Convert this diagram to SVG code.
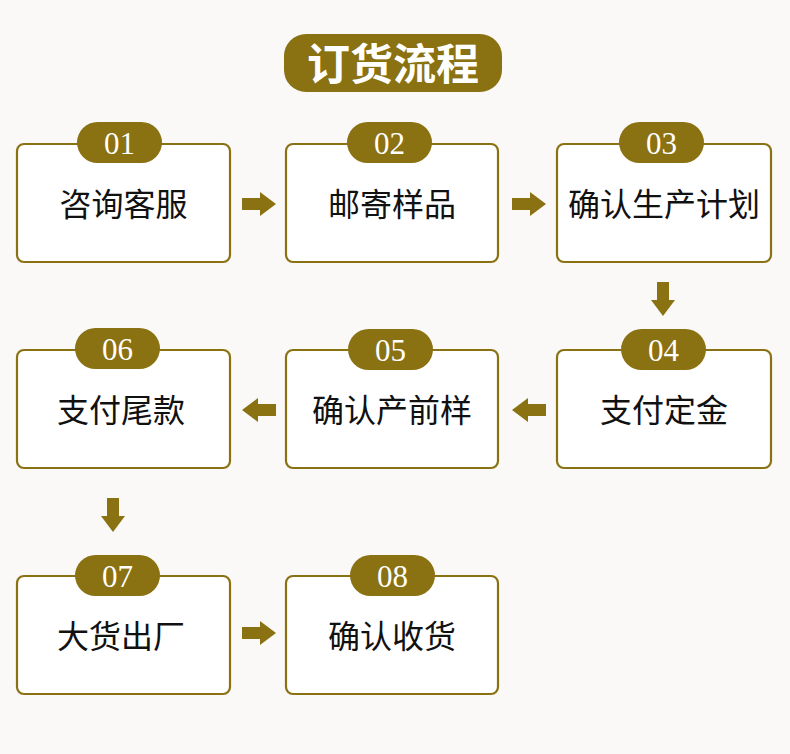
<svg xmlns="http://www.w3.org/2000/svg" width="790" height="754" viewBox="0 0 790 754">
<defs>
<style>
.box{fill:#ffffff;stroke:#8a7112;stroke-width:2.2}
.badge{fill:#8a7112}
.num{font-family:"Liberation Serif","DejaVu Serif",serif;font-size:31px;fill:#ffffff;text-anchor:middle}
.lbl{font-family:"Noto Sans CJK SC","Noto Sans CJK JP",sans-serif;font-size:32px;fill:#111111;text-anchor:middle}
.arr{fill:#8a7112}
</style>
<polygon id="ar" points="0,-6 18,-6 18,-12 34,0 18,12 18,6 0,6"/>
</defs>
<rect width="790" height="754" fill="#faf9f7"/>
<g id="title">
<rect x="284" y="34" width="218" height="58" rx="22" class="badge"/>
<text x="393" y="80" font-family="Noto Sans CJK SC,sans-serif" font-size="43" font-weight="bold" fill="#ffffff" text-anchor="middle">订货流程</text>
</g>
<g id="n1">
<rect x="17" y="144" width="213" height="118" rx="7" class="box"/>
<rect x="77" y="122" width="85" height="41" rx="20.5" class="badge"/>
<text x="119.5" y="154" class="num">01</text>
<text x="123.5" y="216" class="lbl">咨询客服</text>
</g>
<g id="n2">
<rect x="286" y="144" width="212" height="118" rx="7" class="box"/>
<rect x="347" y="122" width="85" height="41" rx="20.5" class="badge"/>
<text x="389.5" y="154" class="num">02</text>
<text x="392" y="216" class="lbl">邮寄样品</text>
</g>
<g id="n3">
<rect x="557" y="144" width="214" height="118" rx="7" class="box"/>
<rect x="619" y="122" width="85" height="41" rx="20.5" class="badge"/>
<text x="661.5" y="154" class="num">03</text>
<text x="664" y="216" class="lbl">确认生产计划</text>
</g>
<g id="n4">
<rect x="557" y="350" width="214" height="118" rx="7" class="box"/>
<rect x="621" y="329" width="85" height="41" rx="20.5" class="badge"/>
<text x="663.5" y="361" class="num">04</text>
<text x="664" y="422" class="lbl">支付定金</text>
</g>
<g id="n5">
<rect x="286" y="350" width="212" height="118" rx="7" class="box"/>
<rect x="348" y="329" width="85" height="41" rx="20.5" class="badge"/>
<text x="390.5" y="361" class="num">05</text>
<text x="392" y="422" class="lbl">确认产前样</text>
</g>
<g id="n6">
<rect x="17" y="350" width="213" height="118" rx="7" class="box"/>
<rect x="75" y="328" width="85" height="41" rx="20.5" class="badge"/>
<text x="117.5" y="360" class="num">06</text>
<text x="121" y="422" class="lbl">支付尾款</text>
</g>
<g id="n7">
<rect x="17" y="576" width="213" height="118" rx="7" class="box"/>
<rect x="75" y="555" width="85" height="41" rx="20.5" class="badge"/>
<text x="117.5" y="587" class="num">07</text>
<text x="121" y="648" class="lbl">大货出厂</text>
</g>
<g id="n8">
<rect x="286" y="576" width="212" height="118" rx="7" class="box"/>
<rect x="350" y="555" width="85" height="41" rx="20.5" class="badge"/>
<text x="392.5" y="587" class="num">08</text>
<text x="392" y="648" class="lbl">确认收货</text>
</g>
<g id="connectors" class="arr">
<use href="#ar" transform="translate(242,204)"/>
<use href="#ar" transform="translate(512,204)"/>
<use href="#ar" transform="translate(663,282) rotate(90)"/>
<use href="#ar" transform="translate(546,410) rotate(180)"/>
<use href="#ar" transform="translate(276,410) rotate(180)"/>
<use href="#ar" transform="translate(113,498) rotate(90)"/>
<use href="#ar" transform="translate(242,633)"/>
</g>
</svg>
